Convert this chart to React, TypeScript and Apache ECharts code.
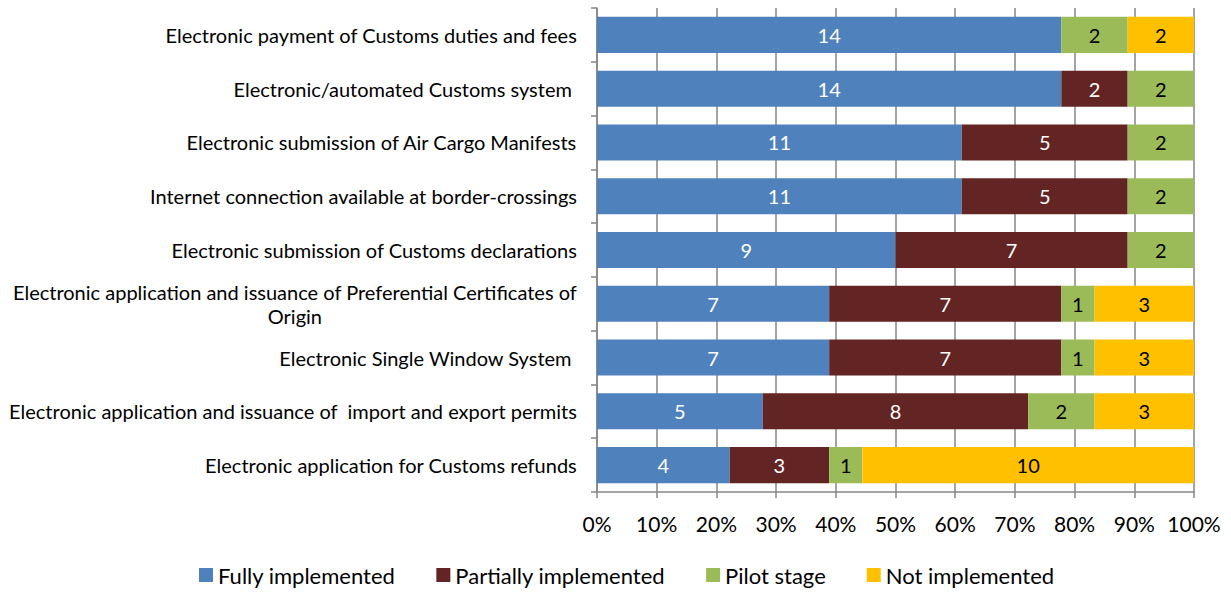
import React, { useEffect, useRef } from "react";
import * as echarts from "echarts";

const categories = [
  "Electronic payment of Customs duties and fees",
  "Electronic/automated Customs system ",
  "Electronic submission of Air Cargo Manifests",
  "Internet connection available at border-crossings",
  "Electronic submission of Customs declarations",
  "Electronic application and issuance of Preferential Certificates of\nOrigin",
  "Electronic Single Window System ",
  "Electronic application and issuance of  import and export permits",
  "Electronic application for Customs refunds",
];

const fully = [14, 14, 11, 11, 9, 7, 7, 5, 4];
const partially = [0, 2, 5, 5, 7, 7, 7, 8, 3];
const pilot = [2, 2, 2, 2, 2, 1, 1, 2, 1];
const notImpl = [2, 0, 0, 0, 0, 3, 3, 3, 10];

const seriesNames = ["Fully implemented", "Partially implemented", "Pilot stage", "Not implemented"];
const seriesColors = ["#4F81BD", "#632523", "#9BBB59", "#FFC000"];
const labelColors = ["#ffffff", "#ffffff", "#000000", "#000000"];

const FONT = "Lato, 'Open Sans', sans-serif";

export default function App() {
  const ref = useRef<HTMLDivElement>(null);
  useEffect(() => {
    document.body.style.margin = "0";
    if (!ref.current) return;
    const chart = echarts.init(ref.current, undefined, { renderer: "svg" });
    const all = [fully, partially, pilot, notImpl];
    const totals = categories.map((_, i) => all.reduce((s, arr) => s + arr[i], 0));
    const series = all.map((arr, si) => ({
      name: seriesNames[si],
      type: "bar",
      stack: "total",
      barCategoryGap: "33%",
      itemStyle: { color: seriesColors[si] },
      label: {
        show: true,
        position: "inside",
        color: labelColors[si],
        fontSize: 20,
        fontFamily: FONT,
        formatter: (p: any) => (arr[p.dataIndex] ? String(arr[p.dataIndex]) : ""),
      },
      data: arr.map((v, i) => (v / totals[i]) * 100),
    }));
    chart.setOption({
      animation: false,
      backgroundColor: "#ffffff",
      grid: { left: 597, right: 37, top: 8, bottom: 100, containLabel: false },
      legend: {
        bottom: 1,
        left: 194,
        itemWidth: 14,
        itemHeight: 14,
        itemGap: 41,
        icon: "rect",
        textStyle: { fontSize: 22, fontFamily: FONT, color: "#000" },
        data: seriesNames,
      },
      xAxis: {
        type: "value",
        min: 0,
        max: 100,
        interval: 10,
        axisLine: { show: true, lineStyle: { color: "#868686", width: 1.5 } },
        axisTick: { show: true, length: 6, lineStyle: { color: "#868686", width: 1.5 } },
        splitLine: { show: true, lineStyle: { color: "#868686", width: 1.5 } },
        axisLabel: {
          formatter: "{value}%",
          fontSize: 21,
          fontFamily: FONT,
          color: "#000",
          margin: 21,
        },
      },
      yAxis: {
        type: "category",
        inverse: true,
        data: categories,
        axisLine: { show: true, lineStyle: { color: "#868686", width: 1.5 } },
        axisTick: { show: true, length: 6, lineStyle: { color: "#868686", width: 1.5 } },
        axisLabel: {
          margin: 20,
          formatter: (v: string) => v.split("\n").map((l) => `{c|${l}}`).join("\n"),
          rich: {
            c: { align: "center", fontSize: 20, fontFamily: FONT, color: "#000", lineHeight: 24 },
          },
        },
      },
      series,
    });
    return () => chart.dispose();
  }, []);
  return <div ref={ref} style={{ width: 1231, height: 592 }} />;
}
